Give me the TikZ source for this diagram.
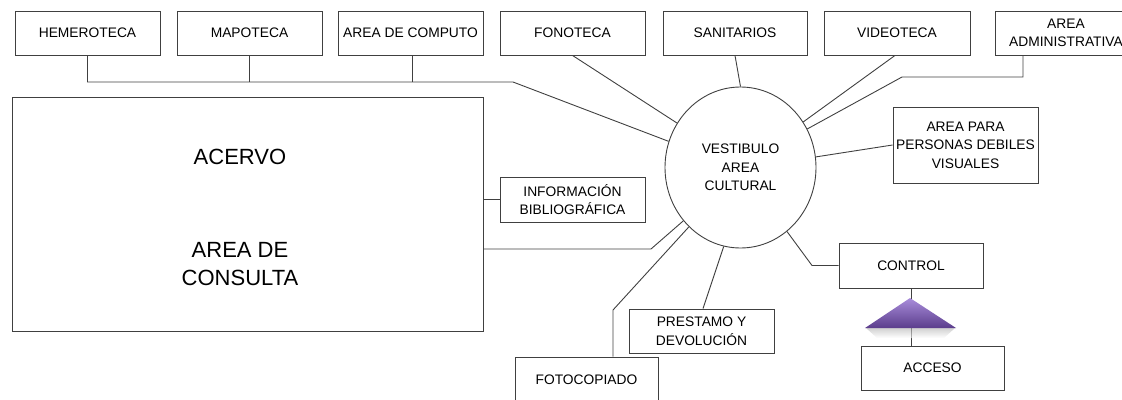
\documentclass[tikz,border=0pt]{standalone}
\usepackage{fontspec}
\setmainfont{Liberation Sans}
\usetikzlibrary{shapes.geometric}
\definecolor{linec}{HTML}{404040}
\definecolor{triTop}{HTML}{A98DDB}
\definecolor{triBot}{HTML}{5B3D8C}
\begin{document}
\begin{tikzpicture}[x=1pt,y=-1pt,
  box/.style={draw=linec,line width=0.9pt,fill=white,inner sep=0pt,align=center,
    font=\fontsize{13.8}{18.5}\selectfont,text=black},
  conn/.style={draw=linec,line width=0.9pt},
  big/.style={font=\fontsize{22}{28}\selectfont,text=black,align=center,inner sep=0pt}]
\useasboundingbox (0,0) rectangle (1122,399);
\clip (0,0) rectangle (1122,399);
% top row
\node[box,minimum width=145pt,minimum height=44pt] (hem) at (87.5,33) {HEMEROTECA};
\node[box,minimum width=145pt,minimum height=44pt] (map) at (249.5,33) {MAPOTECA};
\node[box,minimum width=145pt,minimum height=44pt] (comp) at (410.5,33) {AREA DE COMPUTO};
\node[box,minimum width=145pt,minimum height=44pt] (fono) at (572.5,33) {FONOTECA};
\node[box,minimum width=144pt,minimum height=44pt] (sani) at (735,33) {SANITARIOS};
\node[box,minimum width=146pt,minimum height=44pt] (video) at (897,33) {VIDEOTECA};
\node[box,minimum width=142pt,minimum height=44pt] (admin) at (1066,33) {AREA\\ADMINISTRATIVA};
% centre
\node[box,ellipse,minimum width=151pt,minimum height=161pt] (vest) at (740.5,167.5) {VESTIBULO\\AREA\\CULTURAL};
% others
\node[box,minimum width=471pt,minimum height=234pt] (acervo) at (247.5,214) {};
\node[big] (t1) at (240,157) {ACERVO};
\node[big] (t2) at (240,264) {AREA DE\\CONSULTA};
\node[box,minimum width=145pt,minimum height=76pt] (apara) at (965.5,145) {AREA PARA\\PERSONAS DEBILES\\VISUALES};
\node[box,minimum width=145pt,minimum height=45pt] (info) at (572.5,199.5) {INFORMACIÓN\\BIBLIOGRÁFICA};
\node[box,minimum width=145pt,minimum height=44pt] (prest) at (701.5,331) {PRESTAMO Y\\DEVOLUCIÓN};
\node[box,minimum width=143pt,minimum height=46pt] (foto) at (586.5,380) {FOTOCOPIADO};
\node[box,minimum width=144pt,minimum height=45pt] (control) at (911,265.5) {CONTROL};
\node[box,minimum width=143pt,minimum height=44pt] (acceso) at (932.5,368) {ACCESO};
% coordinates
\coordinate (bus) at (513,82);
\coordinate (ad1) at (1023,77);
\coordinate (ad2) at (902,77);
\coordinate (ac1) at (651,249);
\coordinate (fc1) at (613,310);
\coordinate (ct1) at (812,265.5);
% connectors
\draw[conn] (hem.south) -- (hem.south |- bus) -- (bus) -- (vest.160);
\draw[conn] (map.south) -- (map.south |- bus);
\draw[conn] ([xshift=1.5pt]comp.south) -- ([xshift=1.5pt]comp.south |- bus);
\draw[conn] (fono.south) -- (vest.145);
\draw[conn] (sani.south) -- (vest.north);
\draw[conn] ([xshift=-2pt]video.south) -- (vest.36);
\draw[conn] (admin.south -| ad1) -- (ad1) -- (ad2) -- (vest.30);
\draw[conn] (vest.8) -- (apara.west);
\draw[conn] (acervo.east |- info.west) -- (info.west);
\draw[conn] (acervo.east |- ac1) -- (ac1) -- (vest.-137);
\draw[conn] (vest.-131) -- (fc1) -- (fc1 |- foto.north);
\draw[conn] (vest.-102) -- ([xshift=1.5pt]prest.north);
\draw[conn] (vest.-54) -- (ct1) -- (control.west);
\draw[conn] (control.south) -- (control.south |- acceso.north);
% triangle with soft shadow
\shade[top color=black!30,bottom color=white,opacity=0.6] (866,328) -- (955,328) -- (944,338) -- (877,338) -- cycle;
\shade[top color=triTop,bottom color=triBot] (910,298) -- (956,328) -- (865,328) -- cycle;
\end{tikzpicture}
\end{document}
